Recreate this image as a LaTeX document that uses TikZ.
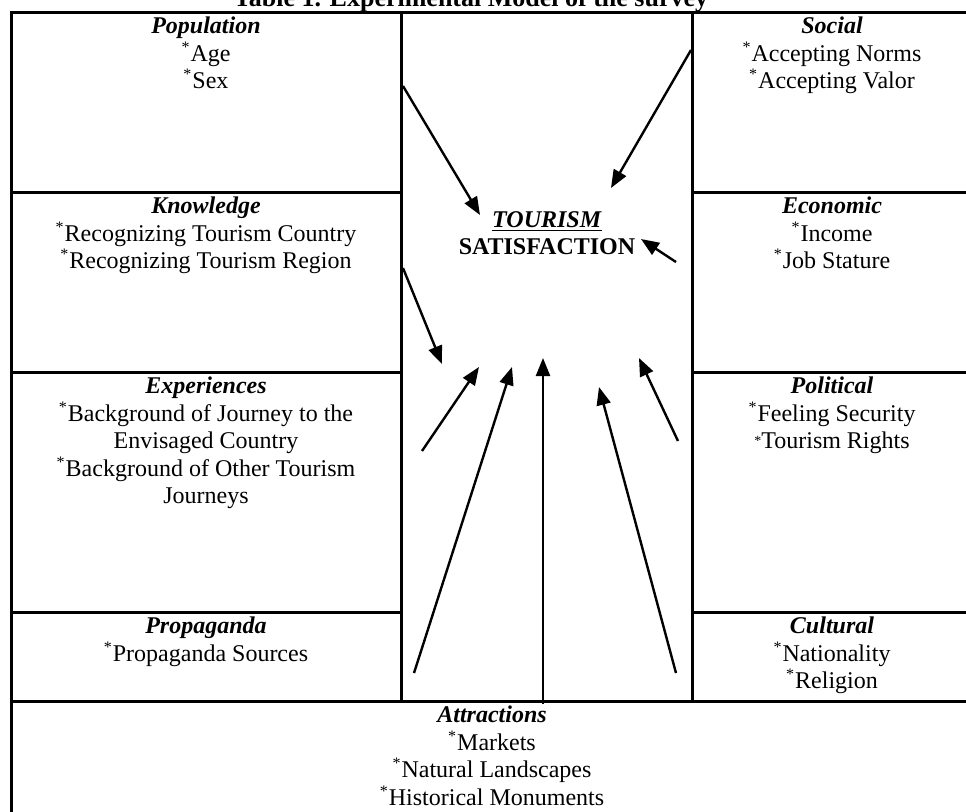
\documentclass[tikz,border=0pt]{standalone}
\usepackage{fontspec}
\setmainfont{Liberation Serif}
\usetikzlibrary{arrows.meta}
\tikzset{
grid/.style = { line width = 1.5pt },
link/.style = { line width = 1.2pt, -{Triangle[length=9pt,width=7pt]} },
cell/.style = { anchor = north, align = center, inner sep = 0pt,
  font = \fontsize{12}{13.75}\selectfont }
}
\newcommand\hd[1]{\strut\textbf{\textit{#1}}}
\newcommand\itm[1]{\textsuperscript{*}#1}

\begin{document}
\begin{tikzpicture}[x=0.5pt,y=-0.5pt]
	\useasboundingbox (0,0) rectangle (966,811);
	\clip (0,0) rectangle (966,811);
	% table
	\draw[grid] (11,12) rectangle (973,830);
	\draw[grid] (401,12) -- (401,701) (692,12) -- (692,701);
	\foreach \y in {192,372,612}
		\draw[grid] (11,\y) -- (401,\y) (692,\y) -- (973,\y);
	\draw[grid] (11,701) -- (973,701);
	\node[font=\fontsize{13}{15}\selectfont\bfseries, anchor=base] (title) at (471,6)
		{Table 1. Experimental Model of the survey};
	% cells
	\node[cell] (pop) at (206,14) {\hd{Population}\\ \itm{Age}\\ \itm{Sex}};
	\node[cell] (soc) at (832,14) {\hd{Social}\\ \itm{Accepting Norms}\\ \itm{Accepting Valor}};
	\node[cell] (know) at (206,194) {\hd{Knowledge}\\ \itm{Recognizing Tourism Country}\\
		\itm{Recognizing Tourism Region}};
	\node[cell] (econ) at (832,194) {\hd{Economic}\\ \itm{Income}\\ \itm{Job Stature}};
	\node[cell] (exper) at (206,374) {\hd{Experiences}\\ \itm{Background of Journey to the}\\
		Envisaged Country\\ \itm{Background of Other Tourism}\\ Journeys};
	\node[cell] (polit) at (832,374) {\hd{Political}\\ \itm{Feeling Security}\\
		\raisebox{0.3ex}{\scriptsize*}Tourism Rights};
	\node[cell] (prop) at (206,614) {\hd{Propaganda}\\ \itm{Propaganda Sources}};
	\node[cell] (cult) at (832,614) {\hd{Cultural}\\ \itm{Nationality}\\ \itm{Religion}};
	\node[cell] (attr) at (492,703) {\hd{Attractions}\\ \itm{Markets}\\ \itm{Natural Landscapes}\\
		\itm{Historical Monuments}};
	\node[cell, font=\fontsize{12}{13.5}\selectfont] (sat) at (547,208)
		{\strut\underline{\textbf{\textit{TOURISM}}}\\ \textbf{SATISFACTION}};
	% arrows
	\coordinate (pop-out) at (403,86);    \coordinate (pop-in) at (480,215);
	\coordinate (soc-out) at (691,50);    \coordinate (soc-in) at (611,188);
	\coordinate (econ-out) at (676,262);  \coordinate (econ-in) at (641,239);
	\coordinate (know-out) at (403,268);  \coordinate (know-in) at (442,364);
	\coordinate (exper-out) at (422,451); \coordinate (exper-in) at (479,367);
	\coordinate (prop-out) at (414,673);  \coordinate (prop-in) at (512,367);
	\coordinate (attr-out) at (543,704);  \coordinate (attr-in) at (543,358);
	\coordinate (cult-out) at (676,673);  \coordinate (cult-in) at (599,387);
	\coordinate (polit-out) at (678,441); \coordinate (polit-in) at (639,358);
	\foreach \n in {pop,soc,econ,know,exper,prop,attr,cult,polit}
		\draw[link] (\n-out) -- (\n-in);
\end{tikzpicture}
\end{document}
